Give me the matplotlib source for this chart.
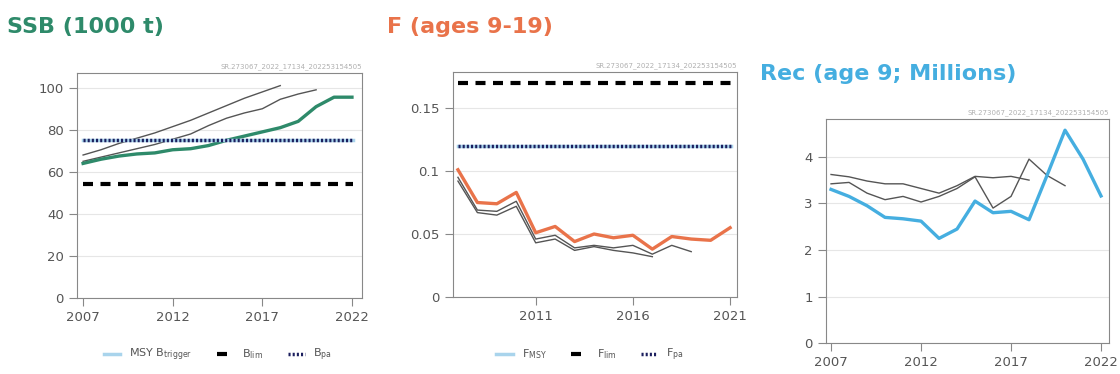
import matplotlib
matplotlib.use("Agg")
import matplotlib.pyplot as plt
import numpy as np

# ---------------- data ----------------
years = list(range(2007, 2023))
ssb = [64, 66, 67.5, 68.5, 69, 70.5, 71, 72.5, 75, 77, 79, 81, 84, 91, 95.5, 95.5]
ssb_hist1 = [68, 70.5, 73.5, 76, 78.5, 81.5, 84.5, 88, 91.5, 95, 98, 101]          # 2007-2018
ssb_hist2 = [65, 67, 69, 71, 73, 75.5, 78, 82, 85.5, 88, 90, 94.5, 97, 99]        # 2007-2020
btrigger = 75
bpa = 75
blim = 54

f_years = list(range(2007, 2022))
fbar = [0.101, 0.075, 0.074, 0.083, 0.051, 0.056, 0.044, 0.050, 0.047, 0.049,
        0.038, 0.048, 0.046, 0.045, 0.055]
f_hist1 = [0.095, 0.069, 0.068, 0.076, 0.046, 0.049, 0.039, 0.041, 0.039, 0.041,
           0.034, 0.041, 0.036]                                                    # 2007-2019
f_hist2 = [0.092, 0.067, 0.065, 0.072, 0.043, 0.046, 0.037, 0.040, 0.037, 0.035,
           0.032]                                                                  # 2007-2017
fmsy = 0.12
fpa = 0.12
flim = 0.17

rec = [3.3, 3.15, 2.95, 2.7, 2.67, 2.62, 2.25, 2.45, 3.05, 2.8, 2.83, 2.65, 3.6,
       4.57, 3.95, 3.16]
rec_hist1 = [3.62, 3.57, 3.48, 3.42, 3.42, 3.32, 3.22, 3.38, 3.58, 3.55, 3.58, 3.5]   # 2007-2018
rec_hist2 = [3.42, 3.45, 3.22, 3.08, 3.15, 3.03, 3.15, 3.32, 3.57, 2.9, 3.15, 3.95,
             3.6, 3.38]                                                               # 2007-2020

watermark = "SR.273067_2022_17134_202253154505"

# ---------------- style ----------------
GREEN = "#2e8a6a"
ORANGE = "#e9734a"
BLUE = "#45aee0"
NAVY = "#1c1f5e"
GRAY = "#555555"
TICKC = "#555555"
DASH = (0, (2.4, 1.8))

W, H = 1120, 374
fig = plt.figure(figsize=(W / 100, H / 100), dpi=100)


def style_axes(ax):
    for s in ax.spines.values():
        s.set_color("#888888")
        s.set_linewidth(0.8)
    ax.tick_params(axis="both", colors="#888888", labelcolor=TICKC, labelsize=9.5,
                   length=6, width=0.8, direction="out")
    ax.grid(axis="y", color="#e6e6e6", lw=0.8)
    ax.set_axisbelow(True)
    ax.text(1.0, 1.015, watermark, transform=ax.transAxes, ha="right", va="bottom",
            fontsize=5, color="#b0b0b0")


# ---- SSB ----
ax1 = fig.add_axes([77 / W, 1 - 298 / H, 285 / W, 225 / H])
style_axes(ax1)
ax1.plot(years[:len(ssb_hist1)], ssb_hist1, color=GRAY, lw=1)
ax1.plot(years[:len(ssb_hist2)], ssb_hist2, color=GRAY, lw=1)
ax1.plot(years, ssb, color=GREEN, lw=2.4)
ax1.axhline(btrigger, xmin=0.02, xmax=0.97, color="#a9d4ec", lw=2.5, label=r"MSY B$_{\mathrm{trigger}}$")
ax1.axhline(blim, xmin=0.02, xmax=0.97, color="black", lw=3, ls=DASH, label=r"B$_{\mathrm{lim}}$")
ax1.axhline(bpa, xmin=0.02, xmax=0.97, color=NAVY, lw=2.5, ls=(0, (0.6, 0.6)), label=r"B$_{\mathrm{pa}}$")
ax1.set_xlim(2006.66, 2022.56)
ax1.set_ylim(0, 107)
ax1.set_xticks([2007, 2012, 2017, 2022])
ax1.set_yticks([0, 20, 40, 60, 80, 100])
h, l = ax1.get_legend_handles_labels()
fig.legend(h, l, loc="center", bbox_to_anchor=(218 / W, 1 - 355 / H), ncol=3, frameon=False,
           fontsize=8, labelcolor="#555555", handlelength=1.5, columnspacing=2.2)

# ---- F ----
ax2 = fig.add_axes([452.7 / W, 1 - 297 / H, 284 / W, 225 / H])
style_axes(ax2)
ax2.plot(f_years[:len(f_hist1)], f_hist1, color=GRAY, lw=1)
ax2.plot(f_years[:len(f_hist2)], f_hist2, color=GRAY, lw=1)
ax2.plot(f_years, fbar, color=ORANGE, lw=2.4)
ax2.axhline(fmsy, xmin=0.02, xmax=0.98, color="#a9d4ec", lw=2.5, label=r"F$_{\mathrm{MSY}}$")
ax2.axhline(flim, xmin=0.02, xmax=0.98, color="black", lw=3, ls=DASH, label=r"F$_{\mathrm{lim}}$")
ax2.axhline(fpa, xmin=0.02, xmax=0.98, color=NAVY, lw=2.5, ls=(0, (0.6, 0.6)), label=r"F$_{\mathrm{pa}}$")
ax2.set_xlim(2006.73, 2021.34)
ax2.set_ylim(0, 0.1786)
ax2.set_xticks([2011, 2016, 2021])
ax2.set_yticks([0, 0.05, 0.1, 0.15])
ax2.set_yticklabels(["0", "0.05", "0.1", "0.15"])
h, l = ax2.get_legend_handles_labels()
fig.legend(h, l, loc="center", bbox_to_anchor=(590 / W, 1 - 355 / H), ncol=3, frameon=False,
           fontsize=8, labelcolor="#555555", handlelength=1.5, columnspacing=2.2)

# ---- Rec ----
ax3 = fig.add_axes([826 / W, 1 - 343.3 / H, 283.3 / W, 224.3 / H])
style_axes(ax3)
ax3.plot(years[:len(rec_hist1)], rec_hist1, color=GRAY, lw=1)
ax3.plot(years[:len(rec_hist2)], rec_hist2, color=GRAY, lw=1)
ax3.plot(years, rec, color=BLUE, lw=2.4)
ax3.set_xlim(2006.72, 2022.46)
ax3.set_ylim(0, 4.81)
ax3.set_xticks([2007, 2012, 2017, 2022])
ax3.set_yticks([0, 1, 2, 3, 4])

# ---- titles ----
fig.text(7 / W, 1 - 33 / H, "SSB (1000 t)", color=GREEN, fontsize=16, fontweight="bold",
         ha="left", va="baseline")
fig.text(387 / W, 1 - 33 / H, "F (ages 9-19)", color=ORANGE, fontsize=16, fontweight="bold",
         ha="left", va="baseline")
fig.text(760 / W, 1 - 80 / H, "Rec (age 9; Millions)", color=BLUE, fontsize=16, fontweight="bold",
         ha="left", va="baseline")

fig.savefig("out.png", dpi=100, facecolor="white")
